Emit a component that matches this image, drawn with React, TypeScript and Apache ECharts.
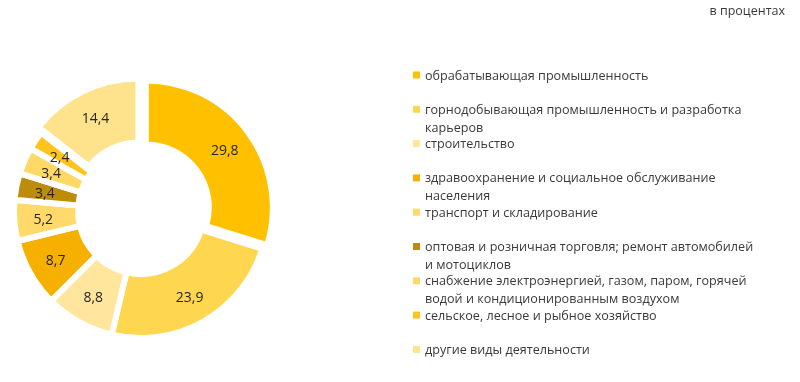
import React, { useEffect, useRef } from "react";
import * as echarts from "echarts";

const categories = [
  "обрабатывающая промышленность",
  "горнодобывающая промышленность и разработка\nкарьеров",
  "строительство",
  "здравоохранение и социальное обслуживание\nнаселения",
  "транспорт и складирование",
  "оптовая и розничная торговля; ремонт автомобилей\nи мотоциклов",
  "снабжение электроэнергией, газом, паром, горячей\nводой и кондиционированным воздухом",
  "сельское, лесное и рыбное хозяйство",
  "другие виды деятельности",
];

const values = [29.8, 23.9, 8.8, 8.7, 5.2, 3.4, 3.4, 2.4, 14.4];

const colors = [
  "#FFC000",
  "#FFD650",
  "#FFE69C",
  "#F5B000",
  "#FFDA6A",
  "#BC8C0A",
  "#FFD966",
  "#FFC41C",
  "#FFE28C",
];

const exploded = [true, false, false, false, false, false, false, false, true];

const unitLabel = "в процентах";

const FONT = "'Open Sans', 'Noto Sans', sans-serif";

export default function App() {
  const ref = useRef<HTMLDivElement>(null);
  useEffect(() => {
    if (!ref.current) return;
    const chart = echarts.init(ref.current, undefined, { renderer: "svg" });
    const legendGraphics: any[] = [];
    categories.forEach((name, i) => {
      const cy = 75 + i * 34.3;
      legendGraphics.push({
        type: "rect",
        shape: { x: 413, y: cy - 3.5, width: 7, height: 7 },
        style: { fill: colors[i] },
      });
      legendGraphics.push({
        type: "text",
        x: 425,
        y: cy - 9,
        style: {
          text: name,
          font: `12.6px ${FONT}`,
          fill: "#3a3a3a",
          lineHeight: 18,
          verticalAlign: "top",
        },
      });
    });
    chart.setOption({
      animation: false,
      graphic: [
        {
          type: "text",
          right: 15,
          top: 4,
          style: {
            text: unitLabel,
            font: `12.5px ${FONT}`,
            fill: "#3a3a3a",
          },
        },
        ...legendGraphics,
      ],
      series: [
        {
          type: "pie",
          center: [141, 211],
          radius: [63, 127],
          startAngle: 90,
          clockwise: true,
          selectedMode: "multiple",
          selectedOffset: 6,
          avoidLabelOverlap: false,
          label: {
            show: true,
            position: "inside",
            formatter: (p: any) => String(p.value).replace(".", ","),
            color: "#262626",
            fontSize: 14,
            fontFamily: FONT,
          },
          labelLine: { show: false },
          itemStyle: { borderColor: "#ffffff", borderWidth: 6 },
          emphasis: { disabled: true },
          data: values.map((v, i) => ({
            name: categories[i],
            value: v,
            selected: exploded[i],
            itemStyle: { color: colors[i] },
          })),
        },
      ],
    });
    return () => chart.dispose();
  }, []);
  return (
    <div
      ref={ref}
      style={{ position: "fixed", left: 0, top: 0, width: 800, height: 382 }}
    />
  );
}
